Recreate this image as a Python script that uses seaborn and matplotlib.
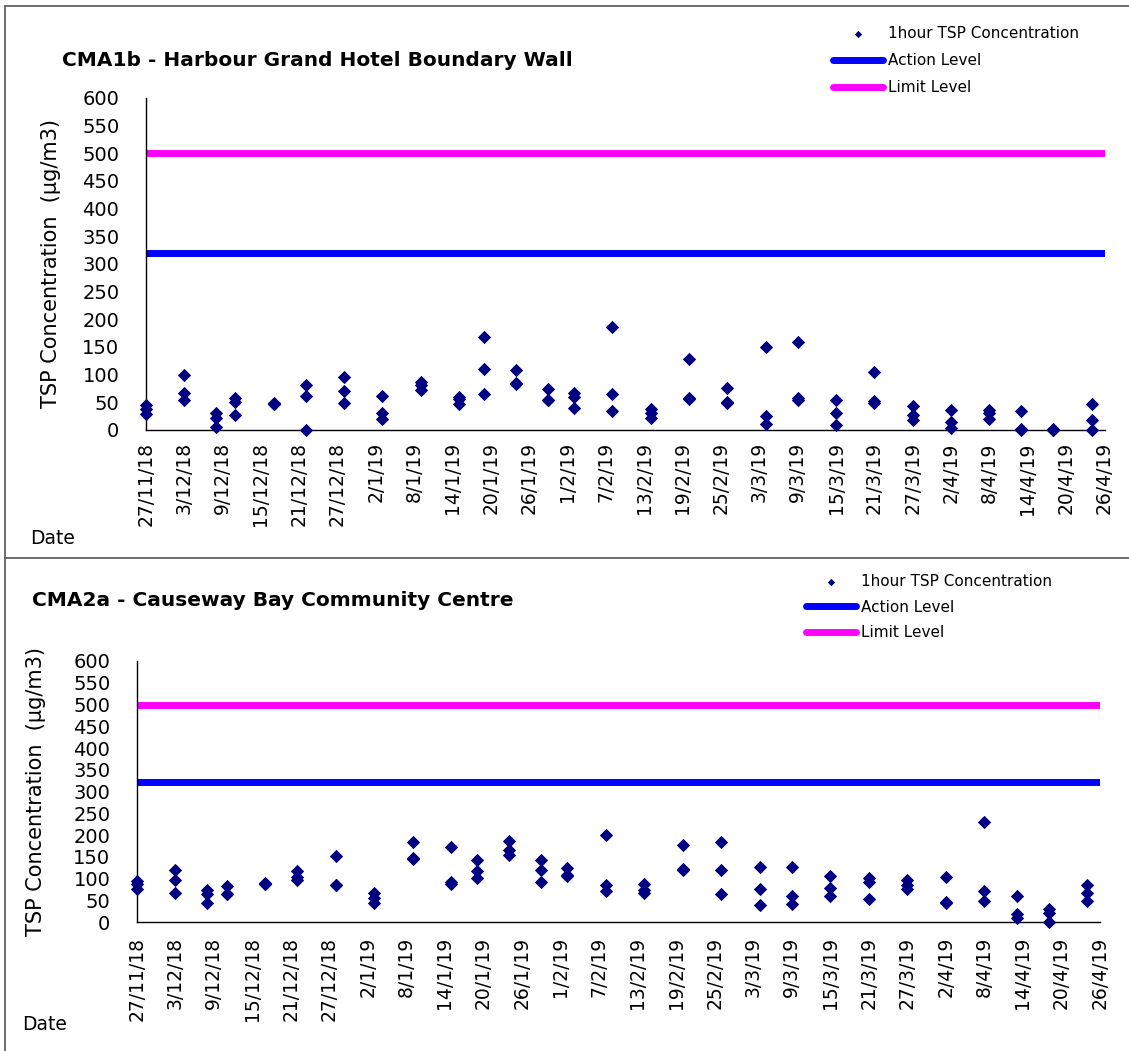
import numpy as np
import pandas as pd
import matplotlib
matplotlib.use("Agg")
import matplotlib.pyplot as plt
from matplotlib.lines import Line2D
import seaborn as sns

# sampling days, three 1-hour readings on each
dates = ["27/11/18", "3/12/18", "8/12/18", "11/12/18", "17/12/18", "22/12/18", "28/12/18",
         "3/1/19", "9/1/19", "15/1/19", "19/1/19", "24/1/19", "29/1/19", "2/2/19", "8/2/19",
         "14/2/19", "20/2/19", "26/2/19", "4/3/19", "9/3/19", "15/3/19", "21/3/19", "27/3/19",
         "2/4/19", "8/4/19", "13/4/19", "18/4/19", "24/4/19"]

# CMA1b - Harbour Grand Hotel Boundary Wall
cma1b_1 = [44, 99, 30, 57, 46, 80, 95, 61, 86, 60, 167, 107, 73, 66, 185,
           37, 128, 75, 149, 158, 53, 105, 43, 36, 36, 33, 0, 47]
cma1b_2 = [38, 67, 21, 50, 47, 61, 70, 30, 80, 56, 110, 84, 53, 59, 64,
           30, 57, 49, 24, 58, 31, 51, 27, 14, 30, 0, 1, 18]
cma1b_3 = [29, 54, 5, 26, 48, 0, 48, 20, 71, 46, 64, 83, 54, 40, 34,
           21, 55, 50, 11, 53, 9, 49, 18, 3, 20, 1, 0, 0]

# CMA2a - Causeway Bay Community Centre
cma2a_1 = [94, 119, 75, 83, 89, 117, 153, 68, 184, 172, 143, 186, 142, 125, 201,
           87, 178, 184, 127, 127, 107, 102, 98, 104, 230, 60, 30, 85]
cma2a_2 = [89, 97, 66, 64, 88, 104, 85, 56, 146, 93, 117, 165, 119, 106, 85,
           68, 123, 119, 77, 60, 79, 92, 77, 45, 72, 20, 21, 68]
cma2a_3 = [76, 68, 45, 66, 90, 97, 86, 45, 147, 87, 102, 154, 93, 108, 72,
           75, 120, 66, 39, 43, 60, 54, 85, 47, 50, 11, 0, 49]

action_1b, limit_1b = 320, 500
action_2a, limit_2a = 323, 500

x_start, x_end = "27/11/18", "26/4/19"

W, H = 1129, 1051


def to_long(r1, r2, r3):
    df = pd.DataFrame({"Date": pd.to_datetime(dates, format="%d/%m/%y"),
                       "r1": r1, "r2": r2, "r3": r3})
    return df.melt(id_vars="Date", value_name="TSP").drop(columns="variable")


def draw_panel(ax, df, action, limit, x_inout):
    sns.scatterplot(data=df, x="Date", y="TSP", marker="D", s=46, color="#000080",
                    linewidth=0, clip_on=False, zorder=3,
                    label="1hour TSP Concentration", ax=ax)
    ax.axhline(action, color="#0000FF", lw=5, label="Action Level", zorder=2)
    ax.axhline(limit, color="#FF00FF", lw=5, label="Limit Level", zorder=2)

    t0 = pd.to_datetime(x_start, format="%d/%m/%y")
    t1 = pd.to_datetime(x_end, format="%d/%m/%y")
    ticks = pd.date_range(t0, t1, freq="6D")
    ax.set_xlim(t0, t1)
    ax.set_xticks(ticks)
    ax.set_xticklabels([f"{d.day}/{d.month}/{d.strftime('%y')}" for d in ticks],
                       rotation=90, fontsize=13.5)
    ax.set_ylim(0, 600)
    ax.set_yticks(range(0, 601, 50))
    ax.tick_params(axis="y", direction="in", length=4.5, width=1, color="#555555",
                   labelcolor="black", labelsize=14, pad=19)
    if x_inout:
        ax.tick_params(axis="x", direction="inout", length=9, width=1,
                       color="#444444", labelcolor="black", pad=6)
    else:
        ax.tick_params(axis="x", direction="in", length=4, width=1,
                       color="#555555", labelcolor="black", pad=9)
    for s in ["top", "right"]:
        ax.spines[s].set_visible(False)
    for s in ["left", "bottom"]:
        ax.spines[s].set_color("black")
        ax.spines[s].set_linewidth(1)
    ax.set_xlabel("")
    ax.set_ylabel("TSP Concentration  (µg/m3)", fontsize=15, color="black")
    ax.grid(False)


sns.set_style("white")
plt.rcParams["font.family"] = ["DejaVu Sans"]
plt.rcParams["text.color"] = "black"

fig = plt.figure(figsize=(W / 100, H / 100), dpi=100)

leg_kw = dict(bbox_transform=fig.transFigure, frameon=False, fontsize=11,
              borderpad=0, borderaxespad=0, handlelength=3.3, handletextpad=0.3,
              markerscale=0.55, labelcolor="black", loc="upper left")

# top panel
ax1 = fig.add_axes([145.7 / W, (H - 429.7) / H, (1104.5 - 145.7) / W, 332 / H])
draw_panel(ax1, to_long(cma1b_1, cma1b_2, cma1b_3), action_1b, limit_1b, False)
ax1.yaxis.set_label_coords(61 / W, (H - 263.7) / H, transform=fig.transFigure)
ax1.legend(bbox_to_anchor=(833 / W, 1 - 26 / H), labelspacing=0.8, **leg_kw)
fig.text(62 / W, 1 - 60 / H, "CMA1b - Harbour Grand Hotel Boundary Wall",
         fontsize=14.5, fontweight="bold", va="center", ha="left")
fig.text(30 / W, 1 - 538 / H, "Date", fontsize=13.5, va="center", ha="left")

# bottom panel
ax2 = fig.add_axes([136.7 / W, (H - 922.3) / H, (1100 - 136.7) / W, 261.3 / H])
draw_panel(ax2, to_long(cma2a_1, cma2a_2, cma2a_3), action_2a, limit_2a, True)
ax2.yaxis.set_label_coords(46 / W, (H - 791.7) / H, transform=fig.transFigure)
ax2.legend(bbox_to_anchor=(806 / W, 1 - 574 / H), labelspacing=0.7, **leg_kw)
fig.text(32 / W, 1 - 600 / H, "CMA2a - Causeway Bay Community Centre",
         fontsize=14.5, fontweight="bold", va="center", ha="left")
fig.text(22 / W, 1 - 1025 / H, "Date", fontsize=13.5, va="center", ha="left")

# panel frames
frame = dict(transform=fig.transFigure, color="#555555", lw=1.2)
fig.add_artist(Line2D([5 / W, 1], [1 - 6 / H, 1 - 6 / H], **frame))
fig.add_artist(Line2D([5 / W, 5 / W], [0, 1 - 6 / H], **frame))
fig.add_artist(Line2D([5 / W, 1], [1 - 558 / H, 1 - 558 / H], **frame))

fig.savefig("out.png", dpi=100)
